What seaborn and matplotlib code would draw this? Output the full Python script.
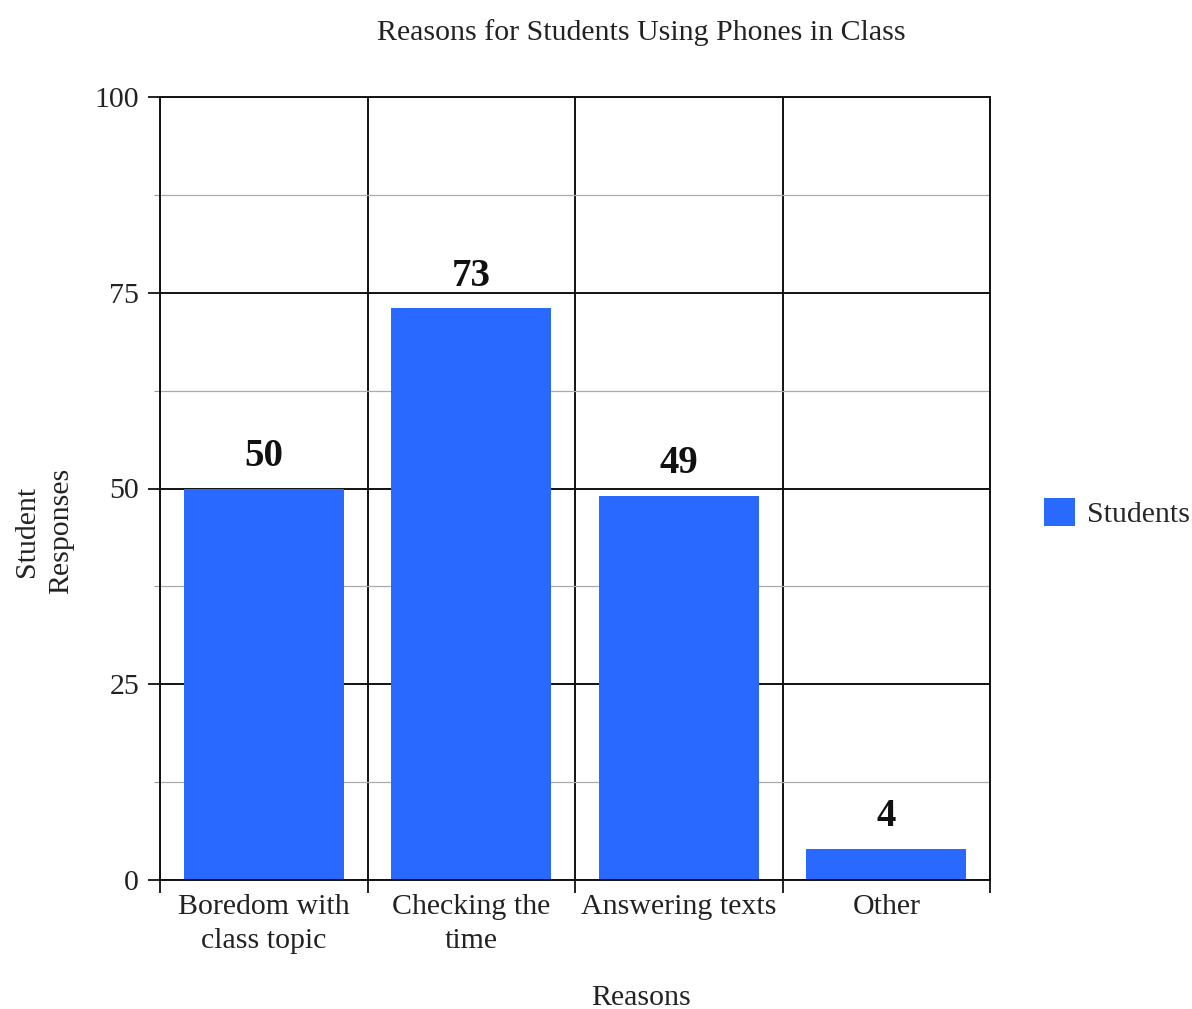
import matplotlib
matplotlib.use("Agg")
import matplotlib.pyplot as plt
import seaborn as sns
import pandas as pd
from matplotlib.patches import Patch

categories = ["Boredom with\nclass topic", "Checking the\ntime", "Answering texts", "Other"]
values = [50, 73, 49, 4]
series_name = "Students"
title = "Reasons for Students Using Phones in Class"
x_label = "Reasons"
y_label = "Student\nResponses"
y_ticks = [0, 25, 50, 75, 100]

sns.set_theme(style="white")
plt.rcParams['font.family'] = ['Liberation Serif', 'DejaVu Serif']

bar_color = "#2969FF"
text_color = "#222222"
fs = 21.5

df = pd.DataFrame({"Reason": categories, "Responses": values})

fig = plt.figure(figsize=(11.92, 10.09), dpi=100)
ax = fig.add_axes([160/1192, 1 - 880/1009, (990-160)/1192, (880-97)/1009])
ax.set_axisbelow(True)

sns.barplot(data=df, x="Reason", y="Responses", color=bar_color, width=0.77,
            saturation=1, ax=ax, linewidth=0, edgecolor='none', zorder=3)

ax.set_ylim(0, 100)
ax.set_xlim(-0.5, len(categories) - 0.5)

# y ticks / grids
ax.set_yticks(y_ticks)
ax.set_yticks([12.5, 37.5, 62.5, 87.5], minor=True)
ax.tick_params(axis='y', which='major', length=9, width=1.4, color='#222222',
               labelsize=fs, pad=6, left=True)
ax.tick_params(axis='y', which='minor', length=4, width=0.8, color='#999999', left=True)
ax.grid(axis='y', which='major', color='#111111', linewidth=1.4, zorder=1)
ax.grid(axis='y', which='minor', color='#aaaaaa', linewidth=0.9, zorder=1)

# x ticks / vertical grid at category boundaries
ax.set_xticks(range(len(categories)))
ax.set_xticklabels(categories)
ax.set_xticks([i - 0.5 for i in range(len(categories) + 1)], minor=True)
ax.tick_params(axis='x', which='major', length=0, labelsize=fs, pad=10)
ax.tick_params(axis='x', which='minor', length=9, width=1.4, color='#222222', bottom=True)
ax.grid(axis='x', which='minor', color='#111111', linewidth=1.4, zorder=1)
ax.grid(axis='x', which='major', visible=False)
for lbl in ax.get_xticklabels():
    lbl.set_linespacing(1.42)
    lbl.set_color(text_color)
for lbl in ax.get_yticklabels():
    lbl.set_color(text_color)

for s in ax.spines.values():
    s.set_visible(True)
    s.set_color('#111111')
    s.set_linewidth(1.4)
    s.set_zorder(4)

ax.set_xlabel("")
ax.set_ylabel("")

# value labels
for i, v in enumerate(values):
    ax.annotate(str(v), (i, v), xytext=(0, 10), textcoords='offset points',
                ha='center', va='bottom', fontsize=28, fontweight='bold', color='#111111')

fig.text(641/1192, 1 - 33/1009, title, ha='center', va='center', fontsize=fs, color=text_color)
fig.text(641/1192, 1 - 998/1009, x_label, ha='center', va='center', fontsize=fs, color=text_color)
fig.text(44/1192, 1 - 531/1009, y_label, ha='center', va='center', fontsize=fs,
         rotation=90, color=text_color, linespacing=1.45)

handles = [Patch(facecolor=bar_color, edgecolor='none', label=series_name)]
fig.legend(handles=handles, loc='center left', bbox_to_anchor=(1044/1192, 1 - 513/1009),
           frameon=False, fontsize=fs, handlelength=1.05, handleheight=1.05,
           handletextpad=0.4, borderaxespad=0, borderpad=0)

fig.savefig("out.png", dpi=100)
